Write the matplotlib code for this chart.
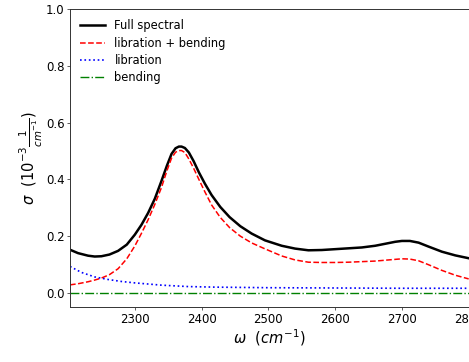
import numpy as np
import matplotlib
matplotlib.use("Agg")
import matplotlib.pyplot as plt

# valores
w_full = [2203, 2215, 2230, 2240, 2250, 2262, 2275, 2288, 2300, 2310, 2320, 2330, 2340, 2348,
          2355, 2361, 2366, 2370, 2375, 2381, 2388, 2396, 2405, 2415, 2428, 2442, 2458, 2475,
          2495, 2520, 2540, 2560, 2580, 2600, 2620, 2640, 2660, 2675, 2690, 2700, 2712, 2725,
          2740, 2760, 2780, 2800]
full = [0.152, 0.140, 0.131, 0.128, 0.129, 0.135, 0.148, 0.170, 0.205, 0.240, 0.282, 0.332, 0.395, 0.448,
        0.490, 0.510, 0.516, 0.516, 0.511, 0.495, 0.465, 0.425, 0.385, 0.345, 0.303, 0.267, 0.235, 0.209,
        0.185, 0.166, 0.156, 0.150, 0.151, 0.154, 0.157, 0.160, 0.166, 0.173, 0.180, 0.183, 0.183, 0.177,
        0.163, 0.145, 0.132, 0.122]
lib_bend = [0.028, 0.032, 0.039, 0.045, 0.052, 0.064, 0.085, 0.120, 0.165, 0.210, 0.258, 0.312, 0.372, 0.430,
            0.475, 0.496, 0.502, 0.502, 0.495, 0.472, 0.440, 0.400, 0.356, 0.310, 0.266, 0.230, 0.200, 0.176,
            0.155, 0.130, 0.116, 0.108, 0.107, 0.107, 0.108, 0.110, 0.112, 0.115, 0.118, 0.120, 0.119, 0.113,
            0.099, 0.079, 0.062, 0.049]

w_lib = [2203, 2220, 2240, 2260, 2280, 2300, 2340, 2380, 2420, 2500, 2600, 2700, 2800]
lib = [0.093, 0.072, 0.056, 0.047, 0.040, 0.035, 0.027, 0.022, 0.020, 0.018, 0.017, 0.016, 0.016]
bend = [0.0, 0.0, 0.0, 0.0, 0.0, 0.0, 0.0, 0.0, 0.0, 0.0, 0.0, 0.0, 0.0]

fig = plt.figure(figsize=(4.69, 3.62), dpi=100)
ax = fig.add_axes([0.1493, 0.152, 0.850, 0.822])

ax.plot(w_full, full, color='black', lw=1.8, label='Full spectral')
ax.plot(w_full, lib_bend, color='red', ls='--', lw=1.1, label='libration + bending')
ax.plot(w_lib, lib, color='blue', ls=':', lw=1.2, label='libration')
ax.plot(w_lib, bend, color='green', ls='-.', lw=1.0, label='bending')

ax.set_xlim(2203, 2800)
ax.set_ylim(-0.05, 1.0)
ax.set_xticks([2300, 2400, 2500, 2600, 2700, 2800])
ax.set_yticks([0.0, 0.2, 0.4, 0.6, 0.8, 1.0])
ax.tick_params(labelsize=8.5, length=2, width=0.6, pad=2, color='#444444')
for s in ax.spines.values():
    s.set_linewidth(0.7)
    s.set_color('#333333')

ax.set_xlabel(r'$\omega\ \ (cm^{-1})$', fontsize=10.5, labelpad=1)
ax.set_ylabel(r'$\sigma\ \ (10^{-3}\frac{1}{cm^{-1}})$', fontsize=10.5)
ax.yaxis.set_label_coords(-0.063, 0.5)

ax.legend(loc='upper left', frameon=False, fontsize=8.3, handlelength=2.2,
          labelspacing=0.38, borderaxespad=0.45)

fig.savefig('out.png', dpi=100)
